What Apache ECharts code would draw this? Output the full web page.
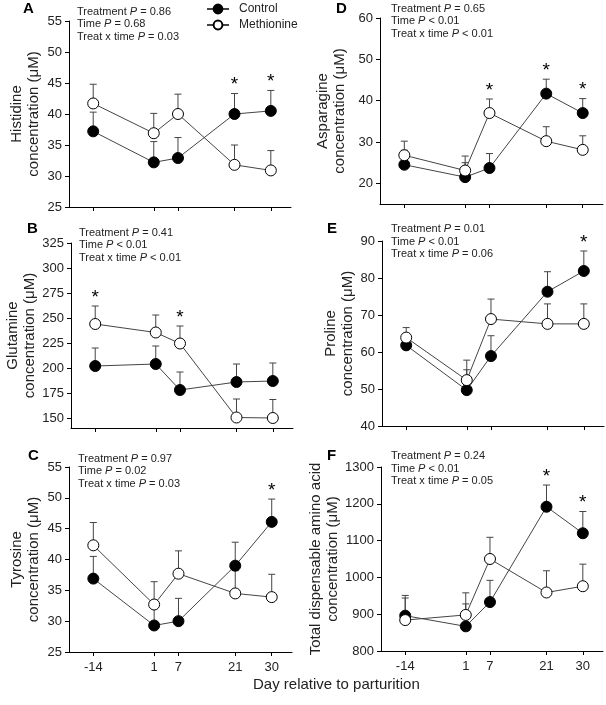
<!DOCTYPE html>
<html lang="en">
<head>
  <meta charset="UTF-8">
  <title>Plasma amino acids, control vs methionine</title>
  <script src="https://cdn.jsdelivr.net/npm/echarts@6/dist/echarts.min.js"></script>
  <style>
    html, body { margin: 0; padding: 0; background: #fff; }
    #main { width: 606px; height: 705px; }
  </style>
</head>
<body>
  <div id="main"></div>

  <script>
    // days relative to parturition
    const days = [-14, 1, 7, 21, 30];

    // A - Histidine
    const hisCtrl = [37.2, 32.2, 32.9, 40.0, 40.5];
    const hisCtrlSE = [3.1, 3.35, 3.3, 3.3, 3.3];
    const hisMet = [41.7, 36.9, 40.0, 31.8, 30.9];
    const hisMetSE = [3.1, 3.2, 3.2, 3.2, 3.2];
    const hisStars = [21, 30];

    // B - Glutamine
    const glnCtrl = [202, 204, 178, 186, 187];
    const glnCtrlSE = [18, 18, 18, 18, 18];
    const glnMet = [244, 235.5, 224.5, 150.5, 150];
    const glnMetSE = [18, 17.5, 17.5, 18.5, 18.5];
    const glnStars = [-14, 7];

    // C - Tyrosine
    const tyrCtrl = [36.9, 29.3, 30.0, 39.0, 46.1];
    const tyrCtrlSE = [3.6, 3.7, 3.7, 3.8, 3.7];
    const tyrMet = [42.3, 32.7, 37.7, 34.5, 33.9];
    const tyrMetSE = [3.7, 3.7, 3.7, 3.7, 3.7];
    const tyrStars = [30];

    // D - Asparagine
    const asnCtrl = [24.5, 21.5, 23.7, 41.7, 37.0];
    const asnCtrlSE = [3.5, 3.5, 3.5, 3.5, 3.5];
    const asnMet = [26.8, 23.1, 37.0, 30.2, 28.1];
    const asnMetSE = [3.4, 3.5, 3.4, 3.5, 3.4];
    const asnStars = [7, 21, 30];

    // E - Proline
    const proCtrl = [61.8, 49.7, 58.9, 76.3, 81.9];
    const proCtrlSE = [3.0, 5.5, 5.5, 5.4, 5.4];
    const proMet = [63.9, 52.4, 68.9, 67.6, 67.6];
    const proMetSE = [2.7, 5.4, 5.4, 5.4, 5.4];
    const proStars = [30];

    // F - Total dispensable amino acids
    const totCtrl = [896, 867, 933, 1192, 1120];
    const totCtrlSE = [55, 61, 59, 59, 59];
    const totMet = [884, 898, 1050, 959, 976];
    const totMetSE = [60, 60, 59, 59, 60];
    const totStars = [21, 30];

    // y tick labels
    const hisTicks = [25, 30, 35, 40, 45, 50, 55];
    const glnTicks = [150, 175, 200, 225, 250, 275, 300, 325];
    const tyrTicks = [25, 30, 35, 40, 45, 50, 55];
    const asnTicks = [20, 30, 40, 50, 60];
    const proTicks = [40, 50, 60, 70, 80, 90];
    const totTicks = [800, 900, 1000, 1100, 1200, 1300];

    // P values: treatment, time, treat x time
    const pTreat = ['= 0.86', '= 0.41', '= 0.97', '= 0.65', '= 0.01', '= 0.24'];
    const pTime = ['= 0.68', '< 0.01', '= 0.02', '< 0.01', '< 0.01', '< 0.01'];
    const pInter = ['= 0.03', '< 0.01', '= 0.03', '< 0.01', '= 0.06', '= 0.05'];

    const FONT = '"Liberation Sans", Arial, sans-serif';
    const LINE = '#444';

    const panels = [
      { letter: 'A', name: 'Histidine\nconcentration (\u03bcM)', ctrl: hisCtrl, ctrlSE: hisCtrlSE, met: hisMet, metSE: hisMetSE, stars: hisStars, ticks: hisTicks, min: 25, max: 55,
        grid: { left: 69, top: 21, width: 222, height: 186 }, gap: 27, letterPos: [23, 1], textPos: [77, 5.5], bottom: false },
      { letter: 'B', name: 'Glutamine\nconcentration (\u03bcM)', ctrl: glnCtrl, ctrlSE: glnCtrlSE, met: glnMet, metSE: glnMetSE, stars: glnStars, ticks: glnTicks, min: 140, max: 325,
        grid: { left: 71, top: 243, width: 222, height: 185 }, gap: 27, letterPos: [27, 221], textPos: [79, 226.5], bottom: false },
      { letter: 'C', name: 'Tyrosine\nconcentration (\u03bcM)', ctrl: tyrCtrl, ctrlSE: tyrCtrlSE, met: tyrMet, metSE: tyrMetSE, stars: tyrStars, ticks: tyrTicks, min: 25, max: 55,
        grid: { left: 69, top: 467, width: 223, height: 185 }, gap: 27, letterPos: [28, 448], textPos: [78, 452.5], bottom: true },
      { letter: 'D', name: 'Asparagine\nconcentration (\u03bcM)', ctrl: asnCtrl, ctrlSE: asnCtrlSE, met: asnMet, metSE: asnMetSE, stars: asnStars, ticks: asnTicks, min: 15, max: 60,
        grid: { left: 380, top: 18, width: 223, height: 186 }, gap: 32, letterPos: [336, 1], textPos: [391, 2.5], bottom: false },
      { letter: 'E', name: 'Proline\nconcentration (\u03bcM)', ctrl: proCtrl, ctrlSE: proCtrlSE, met: proMet, metSE: proMetSE, stars: proStars, ticks: proTicks, min: 40, max: 90,
        grid: { left: 382, top: 241, width: 222, height: 185 }, gap: 26, letterPos: [327, 221], textPos: [391, 223], bottom: false },
      { letter: 'F', name: 'Total dispensable amino acid\nconcentration (\u03bcM)', ctrl: totCtrl, ctrlSE: totCtrlSE, met: totMet, metSE: totMetSE, stars: totStars, ticks: totTicks, min: 800, max: 1300,
        grid: { left: 381, top: 467, width: 222, height: 184 }, gap: 34, letterPos: [327, 448], textPos: [391, 450], bottom: true }
    ];

    const grids = [], xAxes = [], yAxes = [], series = [], graphics = [];

    panels.forEach((p, gi) => {
      grids.push(p.grid);

      xAxes.push({
        type: 'value', gridIndex: gi, min: -20, max: 35,
        splitLine: { show: false },
        axisLine: { onZero: false, lineStyle: { color: '#000', width: 1 } },
        axisTick: { customValues: days, length: 4, lineStyle: { color: '#000' } },
        axisLabel: { show: p.bottom, customValues: days, color: '#222', fontSize: 13, fontFamily: FONT, margin: 9 }
      });

      yAxes.push({
        type: 'value', gridIndex: gi, min: p.min, max: p.max,
        name: p.name, nameLocation: 'middle', nameGap: p.gap,
        nameTextStyle: { fontSize: 15, color: '#222', fontFamily: FONT, lineHeight: 17 },
        splitLine: { show: false },
        axisLine: { show: true, onZero: false, lineStyle: { color: '#000', width: 1 } },
        axisTick: { show: true, customValues: p.ticks, length: 4, lineStyle: { color: '#000' } },
        axisLabel: { customValues: p.ticks, formatter: v => String(v), color: '#222', fontSize: 13, fontFamily: FONT, margin: 7 }
      });

      // error bars (upper only)
      [[p.ctrl, p.ctrlSE], [p.met, p.metSE]].forEach(([vals, se]) => {
        series.push({
          type: 'custom', xAxisIndex: gi, yAxisIndex: gi, silent: true, z: 1, clip: false,
          data: days.map((d, i) => [d, vals[i], vals[i] + se[i]]),
          encode: { x: 0, y: [1, 2] },
          renderItem: (params, api) => {
            const a = api.coord([api.value(0), api.value(1)]);
            const b = api.coord([api.value(0), api.value(2)]);
            const st = { stroke: LINE, lineWidth: 1 };
            return {
              type: 'group',
              children: [
                { type: 'line', shape: { x1: a[0], y1: a[1], x2: b[0], y2: b[1] }, style: st },
                { type: 'line', shape: { x1: b[0] - 3.5, y1: b[1], x2: b[0] + 3.5, y2: b[1] }, style: st }
              ]
            };
          }
        });
      });

      series.push({
        name: 'Control', type: 'line', xAxisIndex: gi, yAxisIndex: gi, z: 3,
        data: days.map((d, i) => [d, p.ctrl[i]]),
        symbol: 'circle', symbolSize: 11,
        lineStyle: { color: LINE, width: 1 },
        itemStyle: { color: '#000', borderColor: '#000', borderWidth: 1 }
      });
      series.push({
        name: 'Methionine', type: 'line', xAxisIndex: gi, yAxisIndex: gi, z: 4,
        data: days.map((d, i) => [d, p.met[i]]),
        symbol: 'circle', symbolSize: 11,
        lineStyle: { color: LINE, width: 1 },
        itemStyle: { color: '#fff', borderColor: '#000', borderWidth: 1 }
      });

      // asterisks above the higher error bar
      series.push({
        type: 'custom', xAxisIndex: gi, yAxisIndex: gi, silent: true, z: 5, clip: false,
        data: p.stars.map(d => {
          const i = days.indexOf(d);
          return [d, Math.max(p.ctrl[i] + p.ctrlSE[i], p.met[i] + p.metSE[i])];
        }),
        renderItem: (params, api) => {
          const c = api.coord([api.value(0), api.value(1)]);
          return {
            type: 'text',
            style: { text: '*', x: c[0], y: c[1] + 1, textAlign: 'center', textVerticalAlign: 'bottom', font: '19px ' + FONT, fill: '#000' }
          };
        }
      });

      graphics.push({
        type: 'text', left: p.letterPos[0], top: p.letterPos[1],
        style: { text: p.letter, font: 'bold 15px ' + FONT, fill: '#000' }
      });
      graphics.push({
        type: 'text', left: p.textPos[0], top: p.textPos[1],
        style: {
          text: 'Treatment {i|P} ' + pTreat[gi] + '\nTime {i|P} ' + pTime[gi] + '\nTreat x time {i|P} ' + pInter[gi],
          font: '11px ' + FONT, fill: '#222', lineHeight: 12.5,
          rich: { i: { fontStyle: 'italic', fontSize: 11, fontFamily: FONT, fill: '#222', lineHeight: 12.5 } }
        }
      });
    });

    graphics.push({
      type: 'text', left: 253, top: 677,
      style: { text: 'Day relative to parturition', font: '15px ' + FONT, fill: '#222' }
    });

    const chart = echarts.init(document.getElementById('main'));
    chart.setOption({
      animation: false,
      grid: grids,
      xAxis: xAxes,
      yAxis: yAxes,
      legend: {
        data: ['Control', 'Methionine'],
        orient: 'vertical', left: 201, top: -2,
        itemWidth: 22, itemHeight: 11, itemGap: 4,
        textStyle: { fontSize: 12, color: '#222', fontFamily: FONT, padding: [0, 0, 0, 5] }
      },
      series: series,
      graphic: graphics
    });
  </script>
</body>
</html>
